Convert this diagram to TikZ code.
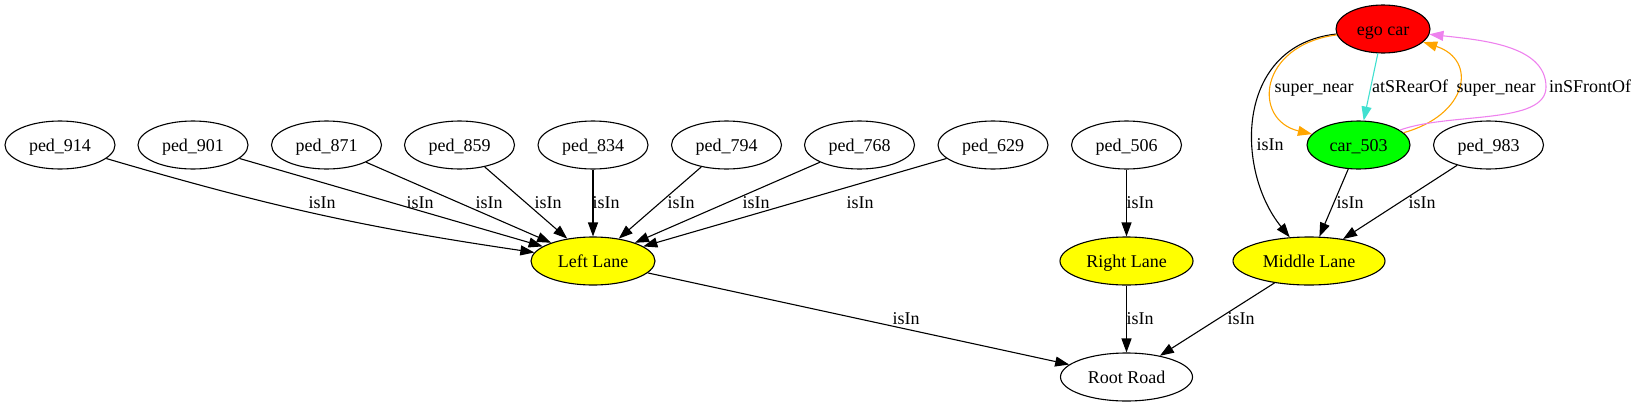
\documentclass[tikz,border=0pt]{standalone}
\usepackage{fontspec}
\setmainfont{Liberation Serif}
\usetikzlibrary{shapes.geometric,arrows.meta}
\definecolor{gvorange}{HTML}{FFA500}
\definecolor{gvturq}{HTML}{40E0D0}
\definecolor{gvviolet}{HTML}{EE82EE}
\definecolor{gvred}{HTML}{FF0000}
\definecolor{gvgreen}{HTML}{00FF00}
\definecolor{gvyellow}{HTML}{FFFF00}
\begin{document}
\begin{tikzpicture}[x=1pt,y=-1pt,
  gnode/.style={ellipse,draw,line width=1.1pt,inner sep=0pt,minimum height=48pt,
    font=\fontsize{18}{20}\selectfont,text height=13.5pt,text depth=1.5pt},
  elab/.style={font=\fontsize{18}{20}\selectfont,anchor=base,inner sep=0pt},
  gedge/.style={line width=1.1pt,-{Triangle[length=14pt,width=10pt]}},
]
\useasboundingbox (0,0) rectangle (1637,407);
% top row pedestrians
\node[gnode,minimum width=110pt] (p914) at (60,145) {ped\_914};
\node[gnode,minimum width=110pt] (p901) at (193,145) {ped\_901};
\node[gnode,minimum width=110pt] (p871) at (326.5,145) {ped\_871};
\node[gnode,minimum width=110pt] (p859) at (459.5,145) {ped\_859};
\node[gnode,minimum width=110pt] (p834) at (593,145) {ped\_834};
\node[gnode,minimum width=110pt] (p794) at (726.5,145) {ped\_794};
\node[gnode,minimum width=110pt] (p768) at (859.5,145) {ped\_768};
\node[gnode,minimum width=110pt] (p629) at (993,145) {ped\_629};
\node[gnode,minimum width=110pt] (p506) at (1126.5,145) {ped\_506};
\node[gnode,minimum width=110pt] (p983) at (1488.5,145) {ped\_983};
% cars
\node[gnode,fill=gvred,minimum width=94pt] (ego) at (1383,29) {ego car};
\node[gnode,fill=gvgreen,minimum width=103pt] (car) at (1358.5,145) {car\_503};
% lanes
\node[gnode,fill=gvyellow,minimum width=124pt] (ll) at (593,261) {Left Lane};
\node[gnode,fill=gvyellow,minimum width=133pt] (rl) at (1126.5,261) {Right Lane};
\node[gnode,fill=gvyellow,minimum width=152pt] (ml) at (1309,261) {Middle Lane};
\node[gnode,minimum width=132pt] (rr) at (1126.5,377) {Root Road};

% pedestrians -> Left Lane
\draw[gedge] (p914) to[bend right=4] (ll);
\draw[gedge] (p901) -- (ll);
\draw[gedge] (p871) -- (ll);
\draw[gedge] (p859) -- (ll);
\draw[gedge] (p834) -- (ll);
\draw[gedge] (p794) -- (ll);
\draw[gedge] (p768) -- (ll);
\draw[gedge] (p629) -- (ll);
\node[elab] (l914) at (322,208) {isIn};
\node[elab] (l901) at (420,208) {isIn};
\node[elab] (l871) at (489,208) {isIn};
\node[elab] (l859) at (548,208) {isIn};
\node[elab] (l834) at (606,208) {isIn};
\node[elab] (l794) at (681,208) {isIn};
\node[elab] (l768) at (756,208) {isIn};
\node[elab] (l629) at (860,208) {isIn};
% ped_506 -> Right Lane
\draw[gedge] (p506) -- (rl);
\node[elab] (l506) at (1140,208) {isIn};
% Middle Lane
\draw[gedge] (car) -- (ml);
\node[elab] (lcar) at (1350,208) {isIn};
\draw[gedge] (p983) -- (ml);
\node[elab] (l983) at (1422,208) {isIn};
\draw[gedge] (ego) .. controls (1235,45) and (1235,170) .. (ml);
\node[elab] (lego) at (1270,150) {isIn};
% lanes -> Root Road
\draw[gedge] (ll) -- (rr);
\node[elab] (lll) at (906,324) {isIn};
\draw[gedge] (rl) -- (rr);
\node[elab] (lrl) at (1140,324) {isIn};
\draw[gedge] (ml) -- (rr);
\node[elab] (lml) at (1241,324) {isIn};
% ego car relations
\draw[gedge,gvorange] (ego) .. controls (1258,45) and (1252,120) .. (car);
\node[elab] (lsn1) at (1314,92) {super\_near};
\draw[gedge,gvturq] (ego) -- (car);
\node[elab] (lrear) at (1410,92) {atSRearOf};
\draw[gedge,gvorange] (car) .. controls (1468,115) and (1478,60) .. (ego);
\node[elab] (lsn2) at (1496,92) {super\_near};
\draw[gedge,gvviolet] (car) .. controls (1450,112) and (1546,125) .. (1546,87)
  .. controls (1546,45) and (1480,40) .. (ego);
\node[elab] (lfront) at (1590,92) {inSFrontOf};
\end{tikzpicture}
\end{document}
